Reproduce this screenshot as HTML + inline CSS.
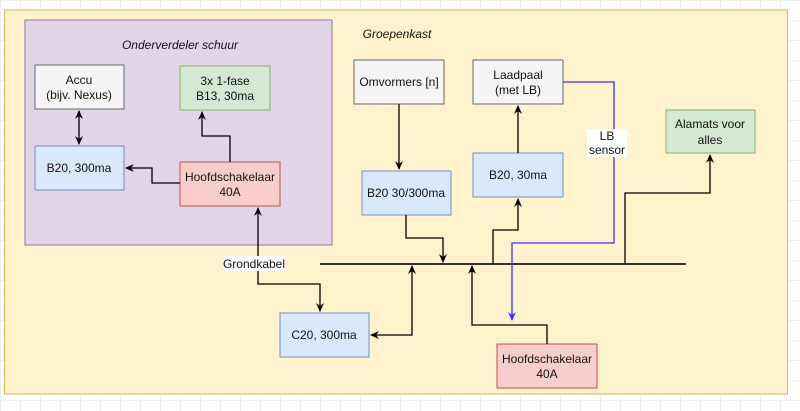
<!DOCTYPE html>
<html><head><meta charset="utf-8"><style>
body{margin:0;width:800px;height:411px;overflow:hidden;background:#fff;
background-image:linear-gradient(#eee 1px,transparent 1px),linear-gradient(90deg,#eee 1px,transparent 1px);background-size:20px 20px;}
svg{position:absolute;left:0;top:0}
text{font-family:"Liberation Sans",sans-serif;font-size:12px;fill:#111;text-anchor:middle}
</style></head><body>
<svg width="800" height="411" viewBox="0 0 800 411">
<defs>
<marker id="a" markerWidth="10" markerHeight="10" refX="8" refY="5" orient="auto-start-reverse" markerUnits="userSpaceOnUse"><path d="M0,1 L9,5 L0,9 L3,5 Z" fill="#000"/></marker>
<marker id="b" markerWidth="10" markerHeight="10" refX="8" refY="5" orient="auto" markerUnits="userSpaceOnUse"><path d="M0,1 L9,5 L0,9 L3,5 Z" fill="#33f"/></marker>
</defs>
<rect x="4.5" y="10" width="783" height="384" fill="#fff2cc" stroke="#d6b656"/>
<rect x="25" y="20" width="307" height="225" fill="#e1d5e7" stroke="#9673a6"/>
<text x="180" y="49" font-style="italic">Onderverdeler schuur</text>
<text x="397" y="38" font-style="italic">Groepenkast</text>
<g stroke="#666">
<rect x="35" y="65" width="89" height="44" fill="#f5f5f5"/>
<rect x="354" y="60" width="90" height="44" fill="#f5f5f5"/>
<rect x="473" y="60" width="90" height="44" fill="#f5f5f5"/>
</g>
<g stroke="#82b366" fill="#d5e8d4">
<rect x="180" y="66" width="90" height="44"/>
<rect x="666" y="110" width="89" height="43"/>
</g>
<g stroke="#6c8ebf" fill="#dae8fc">
<rect x="35" y="146" width="89" height="44"/>
<rect x="362" y="171" width="89" height="44"/>
<rect x="473" y="153" width="90" height="44"/>
<rect x="280" y="313" width="89" height="44"/>
</g>
<g stroke="#b85450" fill="#f8cecc">
<rect x="180" y="162" width="100" height="44"/>
<rect x="497" y="344" width="100" height="44"/>
</g>
<text x="79" y="84">Accu</text><text x="79" y="99">(bijv. Nexus)</text>
<text x="225" y="85">3x 1-fase</text><text x="225" y="100">B13, 30ma</text>
<text x="79" y="172">B20, 300ma</text>
<text x="230" y="181">Hoofdschakelaar</text><text x="230" y="196">40A</text>
<text x="399" y="86">Omvormers [n]</text>
<text x="518" y="79">Laadpaal</text><text x="518" y="94">(met LB)</text>
<text x="406" y="197">B20 30/300ma</text>
<text x="518" y="179">B20, 30ma</text>
<text x="710" y="128">Alamats voor</text><text x="710" y="144">alles</text>
<text x="324" y="339">C20, 300ma</text>
<text x="547" y="363">Hoofdschakelaar</text><text x="547" y="378">40A</text>
<g fill="none" stroke="#000" stroke-width="1.3">
<line x1="320" y1="264" x2="686" y2="264" stroke-width="2" stroke="#333"/>
<line x1="79" y1="111" x2="79" y2="144" marker-start="url(#a)" marker-end="url(#a)"/>
<polyline points="230,162 230,136 202,136 202,112" marker-end="url(#a)"/>
<polyline points="180,183 152,183 152,168 126,168" marker-end="url(#a)"/>
<polyline points="258,208 258,284 320,284 320,311" marker-start="url(#a)" marker-end="url(#a)"/>
<polyline points="399,104 399,169" marker-end="url(#a)"/>
<polyline points="406,215 406,238 443,238 443,262" marker-end="url(#a)"/>
<polyline points="493,264 493,230 518,230 518,199" marker-end="url(#a)"/>
<polyline points="518,153 518,106" marker-end="url(#a)"/>
<polyline points="625,264 625,193 710,193 710,155" marker-end="url(#a)"/>
<polyline points="371,335 412,335 412,266" marker-start="url(#a)" marker-end="url(#a)"/>
<polyline points="547,344 547,325 472,325 472,266" marker-end="url(#a)"/>
<polyline points="563,82 614,82 614,243 512,243 512,320" stroke="#33f" marker-end="url(#b)"/>
</g>
<rect x="224" y="256" width="61" height="15" fill="#fff"/>
<text x="254" y="268">Grondkabel</text>
<rect x="587" y="129" width="40" height="28" fill="#fff"/>
<text x="607" y="140">LB</text><text x="607" y="154">sensor</text>
</svg>
</body></html>
